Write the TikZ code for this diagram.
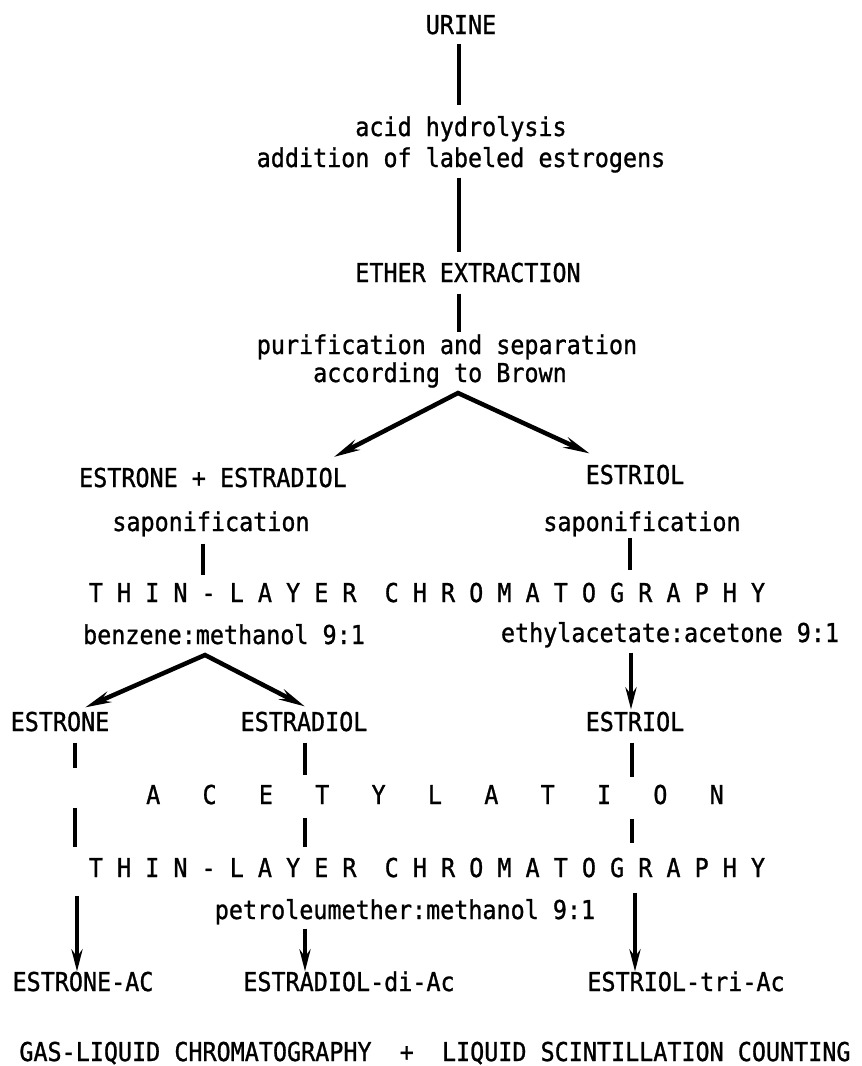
\documentclass[tikz,border=0pt]{standalone}
\usepackage{fontspec}
\newfontfamily\typefont[FakeStretch=0.9,FakeBold=1]{DejaVu Sans Mono}
\usepackage{tikz}
\usetikzlibrary{arrows.meta}
\tikzstyle{txt} = [inner sep=0pt,outer sep=0pt,text height=18pt,text depth=0pt,
  font=\typefont\fontsize{26pt}{30pt}\selectfont]
\tikzstyle{link} = [line width=4.5pt]
\tikzstyle{arrow} = [line width=4pt,-{Stealth[length=22pt,width=11pt]}]
\tikzstyle{fork} = [line width=4.5pt,line join=miter,
  {Stealth[length=26pt,width=11pt]}-{Stealth[length=26pt,width=11pt]}]

\begin{document}
\begin{tikzpicture}[x=1pt,y=-1pt]

    \useasboundingbox (0,0) rectangle (862,1066); % keeps the page size

    % x positions of the vertical connectors
    \coordinate (trunk) at (459,0);
    \coordinate (colL)  at (203,0);
    \coordinate (colR)  at (630,0);
    \coordinate (colA)  at (75,0);
    \coordinate (colB)  at (305,0);
    \coordinate (colC)  at (632,0);

    % top part
    \node[txt] (urine)  at (461,25)  {URINE};
    \node[txt] (hydro)  at (461,127) {acid hydrolysis};
    \node[txt] (addlab) at (461,158) {addition of labeled estrogens};
    \node[txt] (ether)  at (468,273) {ETHER EXTRACTION};
    \node[txt] (purif)  at (447,345) {purification and separation};
    \node[txt] (brown)  at (440,373) {according to Brown};

    % first split
    \node[txt] (esplus)   at (213,478) {ESTRONE + ESTRADIOL};
    \node[txt] (estriolA) at (635,475) {ESTRIOL};
    \node[txt] (saponL)   at (211,522) {saponification};
    \node[txt] (saponR)   at (642,522) {saponification};
    \node[txt] (tlcA) at (427,593)
        {T~H~I~N~-~L~A~Y~E~R~~C~H~R~O~M~A~T~O~G~R~A~P~H~Y};
    \node[txt] (benz)  at (224,635) {benzene:methanol 9:1};
    \node[txt] (ethyl) at (670,633) {ethylacetate:acetone 9:1};

    % single estrogens
    \node[txt] (estrone)   at (60,722)  {ESTRONE};
    \node[txt] (estradiol) at (304,722) {ESTRADIOL};
    \node[txt] (estriolB)  at (635,722) {ESTRIOL};
    \node[txt] (acet) at (435,795) {A~~~C~~~E~~~T~~~Y~~~L~~~A~~~T~~~I~~~O~~~N};
    \node[txt] (tlcB) at (427,868)
        {T~H~I~N~-~L~A~Y~E~R~~C~H~R~O~M~A~T~O~G~R~A~P~H~Y};
    \node[txt] (petrol) at (405,910) {petroleumether:methanol 9:1};

    % acetates
    \node[txt] (estroneAc)   at (83,982)  {ESTRONE-AC};
    \node[txt] (estradiolAc) at (349,982) {ESTRADIOL-di-Ac};
    \node[txt] (estriolAc)   at (686,982) {ESTRIOL-tri-Ac};
    \node[txt] (glc) at (435,1052)
        {GAS-LIQUID CHROMATOGRAPHY~~+~~LIQUID SCINTILLATION COUNTING};

    % connectors
    \draw[link,shorten <=9.5pt,shorten >=13.5pt] (urine.south -| trunk) -- (hydro.north -| trunk);
    \draw[link,shorten <=10.5pt,shorten >=12.5pt] (addlab.south -| trunk) -- (ether.north -| trunk);
    \draw[link,shorten <=11.5pt,shorten >=4.5pt] (ether.south -| trunk) -- (purif.north -| trunk);

    \coordinate (forkA) at (458,393);
    \draw[fork] ([xshift=-13pt,yshift=12pt]esplus.north east) -- (forkA)
        -- ([xshift=4pt,yshift=12.5pt]estriolA.north west);

    \draw[link,shorten <=12.5pt,shorten >=9.5pt] (saponL.south -| colL) -- (tlcA.north -| colL);
    \draw[link,shorten <=6.5pt,shorten >=14.5pt] (saponR.south -| colR) -- (tlcA.north -| colR);

    \coordinate (forkB) at (205,655);
    \draw[fork] ([xshift=25pt,yshift=5.5pt]estrone.north) -- (forkB)
        -- ([xshift=1pt,yshift=6.5pt]estradiol.north);
    \draw[arrow,shorten <=10.5pt,shorten >=3.5pt] ([xshift=-1pt]ethyl.south -| colC) -- ([xshift=-1pt]estriolB.north -| colC);

    \draw[link,shorten <=11.5pt,shorten >=18.5pt] (estrone.south -| colA) -- (acet.north -| colA);
    \draw[link,shorten <=11.5pt,shorten >=11.5pt] (estradiol.south -| colB) -- (acet.north -| colB);
    \draw[link,shorten <=11.5pt,shorten >=9.5pt] (estriolB.south -| colC) -- (acet.north -| colC);

    \draw[link,shorten <=3.5pt,shorten >=12.5pt] (acet.south -| colA) -- (tlcB.north -| colA);
    \draw[link,shorten <=13.5pt,shorten >=12.5pt] (acet.south -| colB) -- (tlcB.north -| colB);
    \draw[link,shorten <=14.5pt,shorten >=16.5pt] (acet.south -| colC) -- (tlcB.north -| colC);

    \draw[arrow,shorten <=18.5pt,shorten >=1.5pt] ([xshift=2pt]tlcB.south -| colA) -- ([xshift=2pt]estroneAc.north -| colA);
    \draw[arrow,shorten <=9.5pt,shorten >=1.5pt] (petrol.south -| colB) -- (estradiolAc.north -| colB);
    \draw[arrow,shorten <=15.5pt,shorten >=1.5pt] ([xshift=3pt]tlcB.south -| colC) -- ([xshift=3pt]estriolAc.north -| colC);

\end{tikzpicture}
\end{document}
